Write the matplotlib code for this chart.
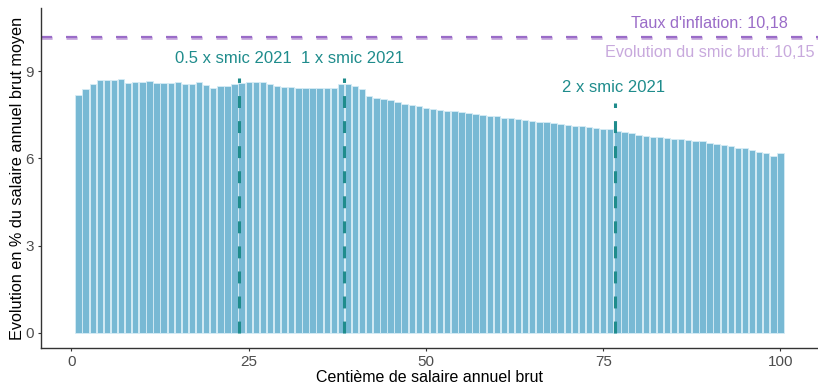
import matplotlib
matplotlib.use("Agg")
import matplotlib.pyplot as plt
import numpy as np

plt.rcParams['font.family'] = ['Liberation Sans', 'DejaVu Sans']

centiles = list(range(1, 101))
evolution = [
    8.19, 8.38, 8.56, 8.68, 8.69, 8.69, 8.72, 8.58, 8.62, 8.63,
    8.67, 8.59, 8.59, 8.59, 8.64, 8.57, 8.57, 8.62, 8.52, 8.43,
    8.50, 8.50, 8.56, 8.58, 8.62, 8.62, 8.62, 8.56, 8.49, 8.47,
    8.45, 8.42, 8.42, 8.42, 8.42, 8.42, 8.42, 8.56, 8.55, 8.50,
    8.37, 8.13, 8.06, 8.05, 8.00, 7.93, 7.88, 7.84, 7.79, 7.74,
    7.70, 7.66, 7.64, 7.62, 7.58, 7.56, 7.53, 7.49, 7.47, 7.44,
    7.40, 7.38, 7.35, 7.32, 7.30, 7.26, 7.24, 7.22, 7.18, 7.16,
    7.13, 7.10, 7.08, 7.06, 7.02, 7.00, 6.95, 6.92, 6.87, 6.81,
    6.78, 6.75, 6.72, 6.69, 6.68, 6.66, 6.63, 6.61, 6.58, 6.54,
    6.51, 6.46, 6.42, 6.37, 6.34, 6.28, 6.23, 6.18, 6.07, 6.17,
]

smic_labels = ["0.5 x smic 2021", "1 x smic 2021", "2 x smic 2021"]
smic_positions = [23.6, 38.5, 76.6]
smic_line_tops = [8.75, 8.75, 7.9]
smic_label_x = [22.8, 39.6, 76.4]
smic_label_y = [9.45, 9.45, 8.45]

inflation = 10.18
smic_brut = 10.15
inflation_label = "Taux d'inflation: 10,18"
smic_brut_label = "Evolution du smic brut: 10,15"
ref_label_x = 90
inflation_label_y = 10.64
smic_brut_label_y = 9.65

x_ticks = [0, 25, 50, 75, 100]
y_ticks = [0, 3, 6, 9]

bar_color = "#78b9d4"
teal = "#1f8c8c"
infl_color = "#9a6cc8"
smic_color = "#c8a9dd"

fig = plt.figure(figsize=(8.18, 3.84), dpi=100)
ax = fig.add_axes([41/818, 36/384, 777/818, 340/384])

ax.bar(centiles, evolution, width=0.9, color=bar_color, edgecolor="#d6ecf5", linewidth=0.6)

for xp, top in zip(smic_positions, smic_line_tops):
    ax.plot([xp, xp], [0, top], color=teal, linewidth=2.2, linestyle=(0, (3.9, 4.3)), solid_capstyle='butt')

for lab, lx, ly in zip(smic_labels, smic_label_x, smic_label_y):
    ax.text(lx, ly, lab, color=teal, fontsize=12, ha='center', va='center')

ax.axhline(smic_brut, color=smic_color, linewidth=2.0, linestyle=(0, (4, 5)))
ax.axhline(inflation, color=infl_color, linewidth=1.6, linestyle=(0, (5, 6.25)))

ax.text(ref_label_x, inflation_label_y, inflation_label, color=infl_color, fontsize=11.7, ha='center', va='center')
ax.text(ref_label_x, smic_brut_label_y, smic_brut_label, color=smic_color, fontsize=11.7, ha='center', va='center')

ax.set_xlim(-4.3, 105.3)
ax.set_ylim(-0.52, 11.17)
ax.set_xticks(x_ticks)
ax.set_yticks(y_ticks)
ax.tick_params(axis='both', colors='#333333', labelcolor='#4d4d4d', labelsize=11, length=2.5, width=0.8, pad=2.5)
for s in ['top', 'right']:
    ax.spines[s].set_visible(False)
for s in ['left', 'bottom']:
    ax.spines[s].set_color('#333333')
    ax.spines[s].set_linewidth(1.0)

ax.set_xlabel("Centième de salaire annuel brut", fontsize=11.5, labelpad=1)
ax.set_ylabel("Evolution en % du salaire annuel brut moyen", fontsize=11.7, labelpad=0.5)

fig.savefig("out.png", dpi=100)
